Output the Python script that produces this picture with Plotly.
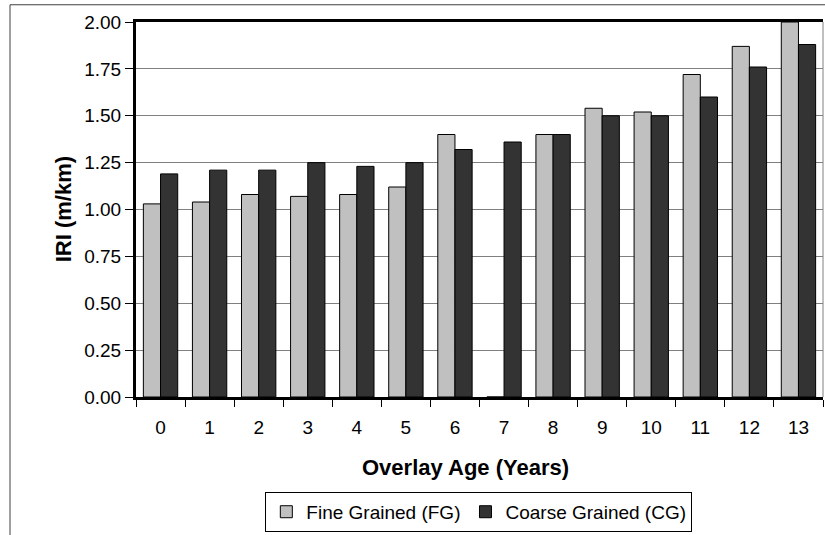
import plotly.graph_objects as go

# Overlay age categories and mean IRI per mix type
ages = [str(i) for i in range(14)]
fine_grained = [1.03, 1.04, 1.08, 1.07, 1.08, 1.12, 1.40, 0.0, 1.40, 1.54, 1.52, 1.72, 1.87, 2.00]
coarse_grained = [1.19, 1.21, 1.21, 1.25, 1.23, 1.25, 1.32, 1.36, 1.40, 1.50, 1.50, 1.60, 1.76, 1.88]

FONT = "Arial, Liberation Sans, sans-serif"

fig = go.Figure()
fig.add_trace(go.Bar(
    x=ages, y=fine_grained, name="Fine Grained (FG)",
    marker=dict(color="#C0C0C0", line=dict(color="black", width=1)),
))
fig.add_trace(go.Bar(
    x=ages, y=coarse_grained, name="Coarse Grained (CG)",
    marker=dict(color="#333333", line=dict(color="black", width=1)),
))

# outer chart-area border (cropped on the right and bottom)
fig.add_shape(type="path", xref="paper", yref="paper",
              path="M -0.1834,-0.5 L -0.1834,1.046 L 1.2,1.046",
              line=dict(color="#404040", width=1))
# thin right edge of plot area
fig.add_shape(type="line", xref="paper", yref="paper", x0=1, x1=1, y0=0, y1=1,
              line=dict(color="#808080", width=1))

fig.add_annotation(text="<b>Overlay Age (Years)</b>", xref="paper", yref="paper",
                   x=0.48, y=-0.187, showarrow=False, xanchor="center", yanchor="middle",
                   font=dict(size=22, color="black", family=FONT))
fig.add_annotation(text="<b>IRI (m/km)</b>", xref="paper", yref="paper",
                   x=-0.106, y=0.501, showarrow=False, textangle=-90,
                   xanchor="center", yanchor="middle",
                   font=dict(size=22, color="black", family=FONT))

fig.update_layout(
    width=825, height=535,
    margin=dict(l=136, r=2, t=22, b=138),
    paper_bgcolor="white", plot_bgcolor="white",
    font=dict(family=FONT, size=19, color="black"),
    barmode="group", bargap=0.3, bargroupgap=0,
    showlegend=True,
    legend=dict(orientation="h", x=0.499, y=-0.253, xanchor="center", yanchor="top",
                bordercolor="black", borderwidth=1, bgcolor="white",
                font=dict(size=19, family=FONT), itemwidth=30,
                tracegroupgap=0),
)
fig.update_xaxes(
    type="category", tickson="boundaries", ticks="outside", ticklen=7,
    tickcolor="black", showline=True, linecolor="black", linewidth=3,
    mirror=True, showgrid=False, zeroline=False, automargin=False,
    ticklabelstandoff=11,
)
fig.update_yaxes(
    range=[0, 2], dtick=0.25, tickformat=".2f", ticks="outside", ticklen=8,
    tickcolor="black", showline=True, linecolor="black", linewidth=3,
    showgrid=True, gridcolor="#808080", gridwidth=1, zeroline=False,
    automargin=False,
)

# drop the default 8px page margin so the figure sits at the window corner
fig.write_html("out.html", config={"displayModeBar": False},
               post_script="document.body.style.margin='0';")
